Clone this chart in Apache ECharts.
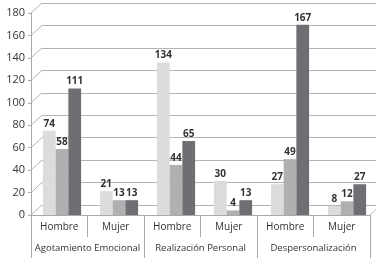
<!DOCTYPE html>
<html>
<head>
<meta charset="utf-8">
<script src="https://cdn.jsdelivr.net/npm/echarts@6/dist/echarts.min.js"></script>
<style>
html, body { margin: 0; padding: 0; background: #fff; }
#chart { width: 376px; height: 258px; }
</style>
</head>
<body>
<div id="chart"></div>
<script>
var categories = ['Hombre', 'Mujer', 'Hombre', 'Mujer', 'Hombre', 'Mujer'];
var groups = ['Agotamiento Emocional', 'Realización Personal', 'Despersonalización'];
var serie1 = [74, 21, 134, 30, 27, 8];
var serie2 = [58, 13, 44, 4, 49, 12];
var serie3 = [111, 13, 65, 13, 167, 27];
var yTicks = [0, 20, 40, 60, 80, 100, 120, 140, 160, 180];

var chart = echarts.init(document.getElementById('chart'));
var font = 'Open Sans';
var lineColor = '#a9a9a9';

function barSeries(name, data, color) {
    return {
        name: name,
        type: 'bar',
        xAxisIndex: 3,
        yAxisIndex: 2,
        data: data,
        barGap: 0,
        barCategoryGap: '33%',
        itemStyle: { color: color },
        label: {
            show: true,
            position: 'top',
            distance: 2,
            fontFamily: font,
            fontWeight: 'bold',
            fontSize: 10,
            color: '#333'
        },
        z: 5
    };
}

var option = {
    animation: false,
    grid: [
        // front plane (axis labels)
        { left: 31, right: 6, top: 13, bottom: 43 },
        // back wall (gridlines)
        { left: 42, right: 0, top: 3, bottom: 53 },
        // bar plane
        { left: 33.5, right: 0.5, top: 10, bottom: 43 }
    ],
    xAxis: [
        {
            type: 'category', gridIndex: 0, data: categories, position: 'bottom',
            axisLine: { show: true, lineStyle: { color: lineColor } },
            axisTick: { show: true, length: 22, interval: 0, lineStyle: { color: lineColor } },
            axisLabel: { interval: 0, fontFamily: font, fontSize: 10, color: '#333', margin: 7 }
        },
        {
            type: 'category', gridIndex: 0, data: groups, position: 'bottom',
            axisLine: { show: false },
            axisTick: { show: true, length: 43, interval: 0, lineStyle: { color: lineColor } },
            axisLabel: { interval: 0, fontFamily: font, fontSize: 9.5, color: '#333', margin: 28 }
        },
        {
            type: 'category', gridIndex: 1, data: categories, show: false
        },
        {
            type: 'category', gridIndex: 2, data: categories, show: false
        }
    ],
    yAxis: [
        {
            type: 'value', gridIndex: 0, min: 0, max: 180, interval: 20,
            axisLine: { show: true, lineStyle: { color: lineColor } },
            axisTick: { show: true, length: 3, lineStyle: { color: lineColor } },
            splitLine: { show: false },
            axisLabel: { fontFamily: font, fontSize: 11, color: '#333', margin: 6 }
        },
        {
            type: 'value', gridIndex: 1, min: 0, max: 180, interval: 20,
            axisLine: { show: false }, axisTick: { show: false }, axisLabel: { show: false },
            splitLine: { show: true, lineStyle: { color: '#b3b3b3', width: 1 } },
            z: 0
        },
        {
            type: 'value', gridIndex: 2, min: 0, max: 180, show: false
        }
    ],
    series: [
        barSeries('s1', serie1, '#dcdcde'),
        barSeries('s2', serie2, '#b0b0b3'),
        barSeries('s3', serie3, '#6f6f73')
    ]
};
chart.setOption(option);

// perspective connectors between front axis and back wall
var graphics = [];
yTicks.forEach(function (v) {
    var f = chart.convertToPixel({ yAxisIndex: 0 }, v);
    var b = chart.convertToPixel({ yAxisIndex: 1 }, v);
    graphics.push({
        type: 'line', z: 0, silent: true,
        shape: { x1: 31, y1: f, x2: 42, y2: b },
        style: { stroke: '#b3b3b3', lineWidth: 1 }
    });
});
var f0 = chart.convertToPixel({ yAxisIndex: 0 }, 0);
var b0 = chart.convertToPixel({ yAxisIndex: 1 }, 0);
graphics.push({
    type: 'line', z: 0, silent: true,
    shape: { x1: 370, y1: f0, x2: 381, y2: b0 },
    style: { stroke: '#b3b3b3', lineWidth: 1 }
});
chart.setOption({ graphic: graphics });
</script>
</body>
</html>
